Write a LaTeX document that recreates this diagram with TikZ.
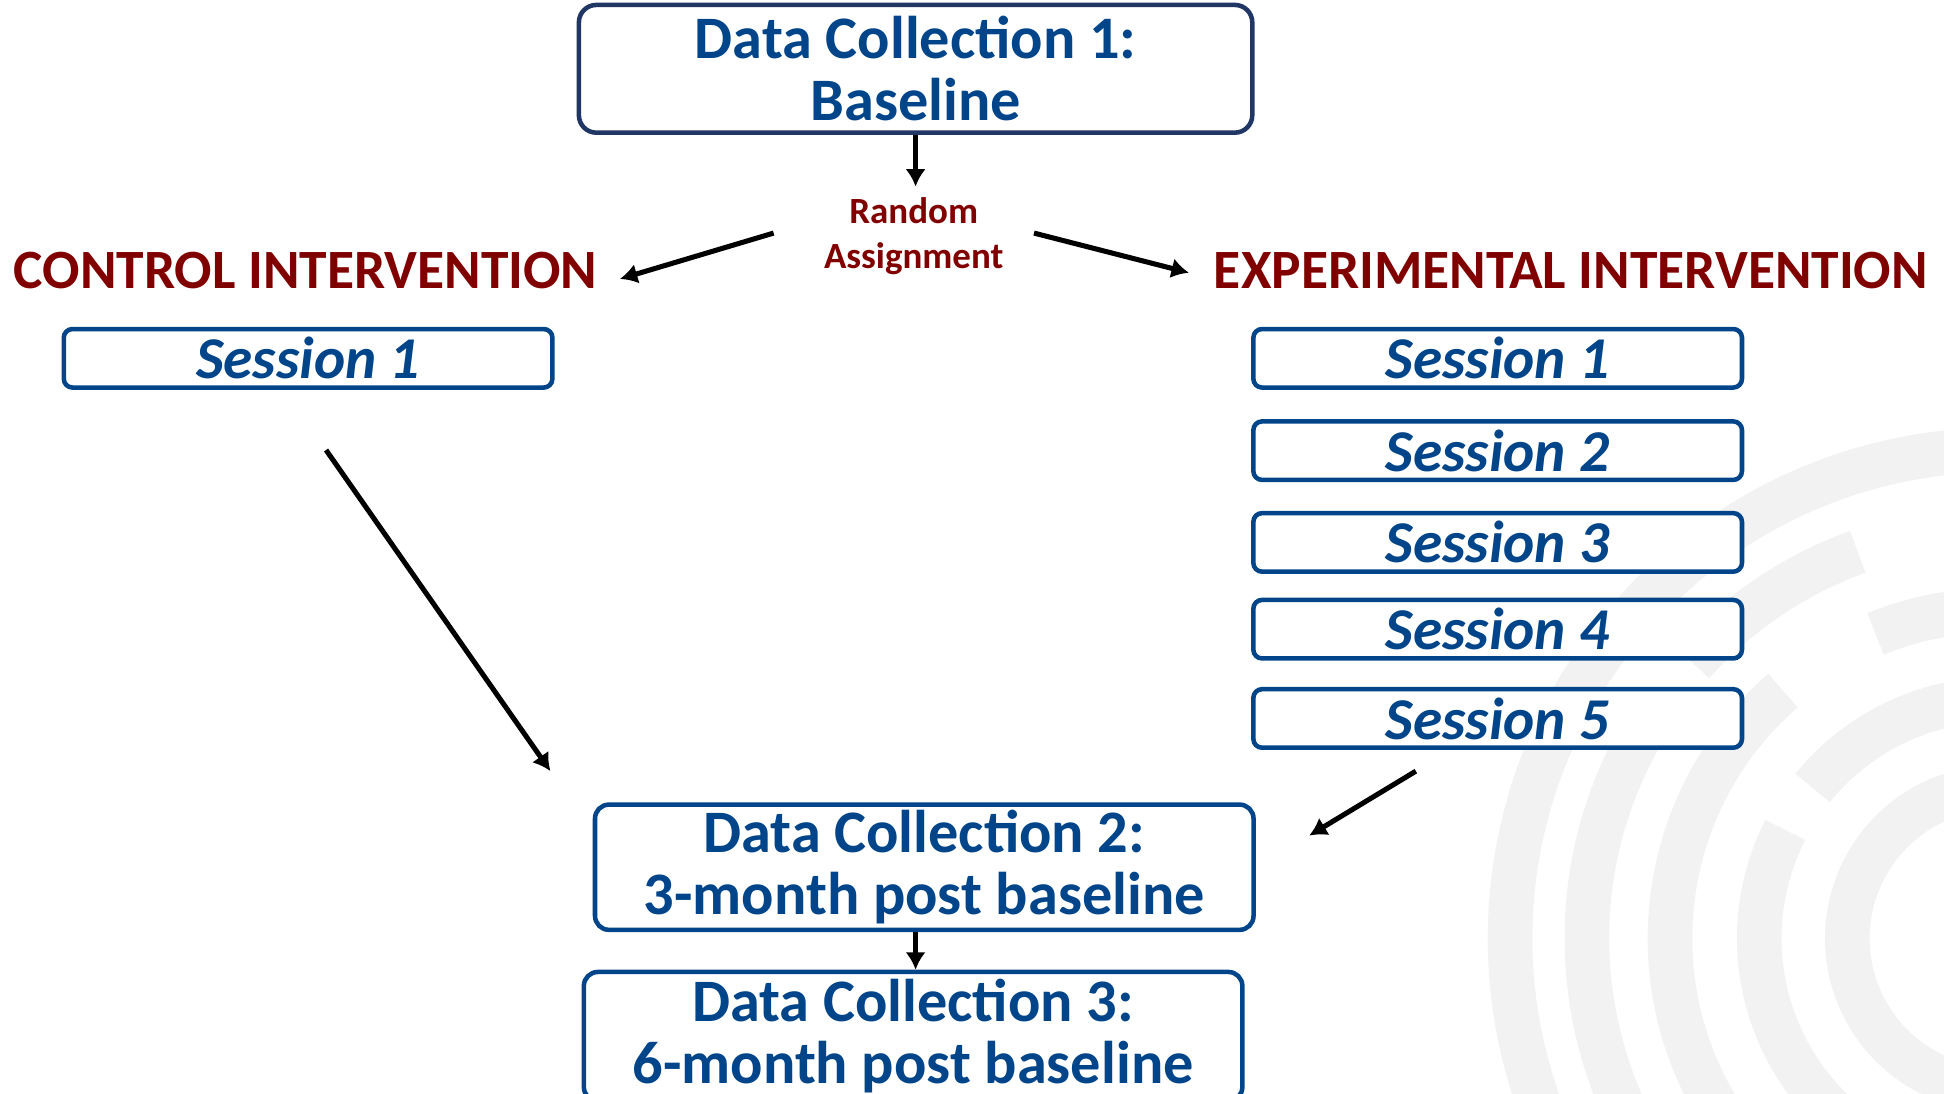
\documentclass[tikz,border=0pt]{standalone}
\usepackage{fontspec}
\setmainfont{Carlito}
\usepackage{xcolor}
\usetikzlibrary{arrows.meta}
\definecolor{dcblue}{RGB}{0,69,137}
\definecolor{dcnavy}{RGB}{32,54,100}
\definecolor{armred}{RGB}{128,0,0}
\definecolor{ringgray}{RGB}{242,242,242}

\begin{document}
\begin{tikzpicture}[x=0.0125cm, y=-0.0125cm,
        dcbox/.style={draw=dcblue, line width=1.3pt, rounded corners=4pt, fill=white, text=dcblue,
            align=center, inner sep=0pt, font=\fontsize{17.3}{17.8}\selectfont\bfseries},
        sessbox/.style={draw=dcblue, line width=1.3pt, rounded corners=2.5pt, fill=white, text=dcblue,
            inner sep=0pt, minimum width=4.925cm, minimum height=0.59cm,
            font=\fontsize{17}{20}\selectfont\bfseries\itshape},
        armhead/.style={text=armred, inner sep=0pt, font=\fontsize{15.9}{18}\selectfont\bfseries},
        arr/.style={-{Latex[length=5pt,width=5.8pt]}, line width=1.45pt},
        ring/.style={draw=ringgray, line width=0.45cm}]
        \useasboundingbox (0,0) rectangle (1568,882);
        \clip (0,0) rectangle (1568,882);
        \foreach \r/\a/\b in {122/80/280, 193/80/141, 193/153/280, 265/80/112, 265/131/280,
                              332/110/138, 332/147/280, 394/80/280} {
            \draw[ring] ([shift={(1612,757)}]-\a:\r) arc[start angle=-\a, end angle=-\b, radius=\r];
        }
        \node[dcbox, draw=dcnavy, minimum width=6.7875cm, minimum height=1.2875cm, rounded corners=5pt]
            (dc1) at (738.5,55.5) {Data Collection 1:\\Baseline};
        \node[text=armred, align=center, inner sep=0pt, font=\fontsize{10.6}{12.8}\selectfont\bfseries]
            (rand) at (737,190.5) {Random\\Assignment};
        \node[armhead, anchor=base] (ctrl) at (246.5,233) {CONTROL INTERVENTION};
        \node[armhead, anchor=base] (expt) at (1267,233) {EXPERIMENTAL INTERVENTION};
        \node[sessbox] (c1) at (248.5,289) {Session 1};
        \foreach \i/\y in {1/289, 2/363.5, 3/437.5, 4/507.5, 5/579.5} {
            \node[sessbox] (e\i) at (1208,\y) {Session \i};
        }
        \node[dcbox, minimum width=6.6375cm, minimum height=1.2625cm]
            (dc2) at (745.5,699.5) {Data Collection 2:\\3-month post baseline};
        \node[dcbox, minimum width=6.6375cm, minimum height=1.3cm]
            (dc3) at (736.5,836) {Data Collection 3:\\6-month post baseline};
        \coordinate (ra-l) at (624,188);
        \coordinate (ctrl-in) at (500,225);
        \coordinate (ra-r) at (834,188);
        \coordinate (expt-in) at (959,220);
        \coordinate (c1-out) at (263,363);
        \coordinate (dc2-l) at (444,622);
        \coordinate (e5-out) at (1142,622);
        \coordinate (dc2-r) at (1056,674);
        \draw[arr, shorten >=3pt] (dc1.south) -- (dc1.south |- rand.north);
        \draw[arr] (ra-l) -- (ctrl-in);
        \draw[arr] (ra-r) -- (expt-in);
        \draw[arr] (c1-out) -- (dc2-l);
        \draw[arr] (e5-out) -- (dc2-r);
        \draw[arr] (dc2.south -| dc1.south) -- (dc3.north -| dc1.south);
    \end{tikzpicture}
\end{document}
